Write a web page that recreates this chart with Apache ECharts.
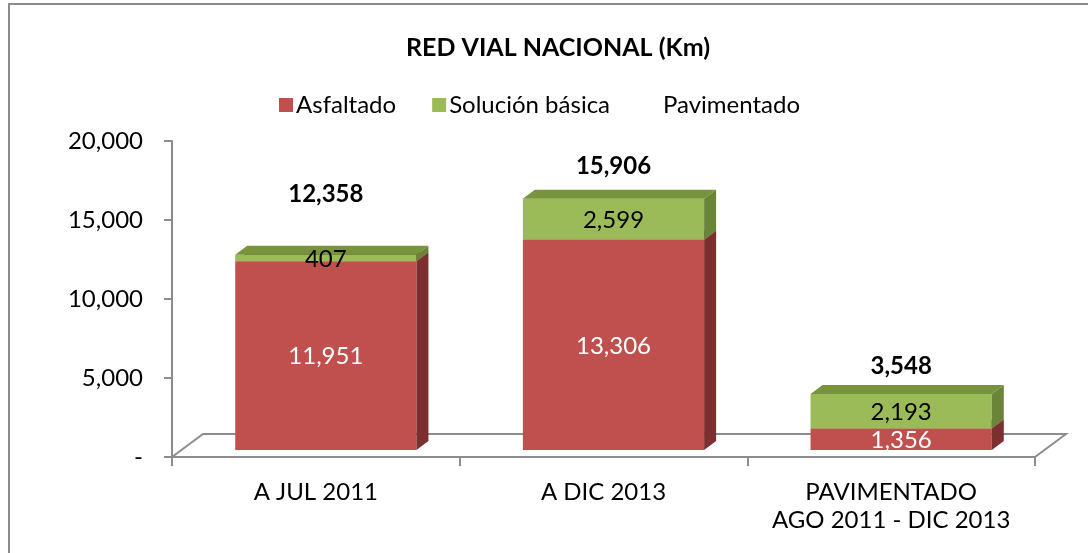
<!DOCTYPE html>
<html>
<head>
<meta charset="utf-8">
<script src="https://cdn.jsdelivr.net/npm/echarts@6/dist/echarts.min.js"></script>
<style>
html,body{margin:0;padding:0;background:#fff;}
#chart{width:1088px;height:553px;}
</style>
</head>
<body>
<div id="chart"></div>
<script>
const categories = ['A JUL 2011', 'A DIC 2013', 'PAVIMENTADO\nAGO 2011 - DIC 2013'];
const asfaltado = [11951, 13306, 1356];
const solucionBasica = [407, 2599, 2193];
const pavimentado = [12358, 15906, 3548];
const seriesNames = ['Asfaltado', 'Solución básica', 'Pavimentado'];
const yTicks = [0, 5000, 10000, 15000, 20000];

const FONT = 'Lato, "Open Sans", sans-serif';
const Y_MAX = 20000;
const DX = 10, DY = -7;      // bar plane offset (mid depth)
const BX = 12, BY = 9;       // bar depth
const FX = 31, FY = 23;      // floor depth
const BAR_RATIO = 0.63;

const fmt = v => v.toLocaleString('en-US');

// build stacked ranges
const asfData = asfaltado.map((v, i) => [i, 0, v]);
const solData = solucionBasica.map((v, i) => [i, asfaltado[i], asfaltado[i] + v]);
const pavData = pavimentado.map((v, i) => [i, asfaltado[i] + solucionBasica[i], asfaltado[i] + solucionBasica[i] + v]);

function makeRender(front, top, side, textColor, labelVals) {
  return function (params, api) {
    const ci = api.value(0), lo = api.value(1), hi = api.value(2);
    const band = api.size([1, 0])[0];
    const w = band * BAR_RATIO;
    const pLo = api.coord([ci, lo]);
    const pHi = api.coord([ci, hi]);
    const x0 = pLo[0] - w / 2 + DX, x1 = x0 + w;
    const yb = pLo[1] + DY, yt = pHi[1] + DY;
    const children = [
      { type: 'rect', shape: { x: x0, y: yt, width: w, height: yb - yt }, style: { fill: front } },
      { type: 'polygon', shape: { points: [[x1, yb], [x1 + BX, yb - BY], [x1 + BX, yt - BY], [x1, yt]] }, style: { fill: side } },
      { type: 'polygon', shape: { points: [[x0, yt], [x0 + BX, yt - BY], [x1 + BX, yt - BY], [x1, yt]] }, style: { fill: top } },
      { type: 'text', style: { text: fmt(labelVals[params.dataIndex]), x: (x0 + x1) / 2, y: (yb + yt) / 2 + 1, align: 'center', verticalAlign: 'middle', fill: textColor, font: '24px ' + FONT } }
    ];
    return { type: 'group', children };
  };
}

function renderTotal(params, api) {
  const ci = api.value(0), lo = api.value(1), hi = Math.min(api.value(2), Y_MAX);
  const pLo = api.coord([ci, lo]);
  const pHi = api.coord([ci, hi]);
  const x = pLo[0] + DX;
  const y = (pLo[1] + pHi[1]) / 2 + DY;
  return { type: 'text', style: { text: fmt(pavimentado[params.dataIndex]), x, y, align: 'center', verticalAlign: 'middle', fill: '#000', font: 'bold 24px ' + FONT } };
}

const chart = echarts.init(document.getElementById('chart'), null, { renderer: 'canvas' });
const option = {
  animation: false,
  backgroundColor: '#fff',
  title: {
    text: 'RED VIAL NACIONAL (Km)', left: 401, top: 30,
    textStyle: { fontFamily: FONT, fontWeight: 'bold', fontSize: 25, color: '#000' }
  },
  legend: {
    top: 88, left: 274, itemWidth: 14, itemHeight: 14, itemGap: 36,
    icon: 'rect',
    textStyle: { fontFamily: FONT, fontSize: 24, color: '#000', padding: [0, 0, 0, -2] },
    data: [
      { name: seriesNames[0], itemStyle: { color: '#C0504D' } },
      { name: seriesNames[1], itemStyle: { color: '#9BBB59' } },
      { name: seriesNames[2], itemStyle: { color: 'rgba(0,0,0,0)' } }
    ]
  },
  grid: { left: 172, right: 53, top: 141, bottom: 96 },
  xAxis: {
    type: 'category', data: categories, boundaryGap: true,
    axisLine: { lineStyle: { color: '#8c8c8c', width: 2 } },
    axisTick: { show: true, length: 9, lineStyle: { color: '#8c8c8c', width: 2 } },
    axisLabel: { interval: 0, hideOverlap: false, fontFamily: FONT, fontSize: 24, color: '#000', margin: 21, lineHeight: 28 }
  },
  yAxis: {
    type: 'value', min: 0, max: Y_MAX, interval: 5000,
    splitLine: { show: false },
    axisLine: { show: true, lineStyle: { color: '#8c8c8c', width: 2 } },
    axisTick: { show: true, length: 8, lineStyle: { color: '#8c8c8c', width: 2 } },
    axisLabel: {
      fontFamily: FONT, fontSize: 24, color: '#000', margin: 29,
      formatter: v => (v === 0 ? '-' : fmt(v))
    }
  },
  series: [
    { name: seriesNames[0], type: 'custom', data: asfData, itemStyle: { color: '#C0504D' },
      renderItem: makeRender('#C0504D', '#A0403D', '#7C2F2E', '#fff', asfaltado) },
    { name: seriesNames[1], type: 'custom', data: solData, itemStyle: { color: '#9BBB59' },
      renderItem: makeRender('#9BBB59', '#77933C', '#6A8438', '#000', solucionBasica) },
    { name: seriesNames[2], type: 'custom', data: pavData, itemStyle: { color: 'rgba(0,0,0,0)' },
      renderItem: renderTotal }
  ]
};
chart.setOption(option);

// 3D floor outline built from axis extents
const p0 = chart.convertToPixel({ gridIndex: 0 }, [0, 0]);
const p1 = chart.convertToPixel({ gridIndex: 0 }, [1, 0]);
const pN = chart.convertToPixel({ gridIndex: 0 }, [categories.length - 1, 0]);
const half = (p1[0] - p0[0]) / 2;
const gl = Math.round(p0[0] - half), gr = Math.round(pN[0] + half), gy = Math.round(p0[1]);
chart.setOption({
  graphic: [
    { type: 'polyline', z: -1, shape: { points: [[gl, gy], [gl + FX, gy - FY], [gr + FX, gy - FY], [gr, gy]] },
      style: { stroke: '#8c8c8c', lineWidth: 2, fill: null } },
    { type: 'polyline', shape: { points: [[9, 553], [9, 4], [1088, 4]] },
      style: { stroke: '#8c8c8c', lineWidth: 2, fill: null } }
  ]
});
</script>
</body>
</html>
